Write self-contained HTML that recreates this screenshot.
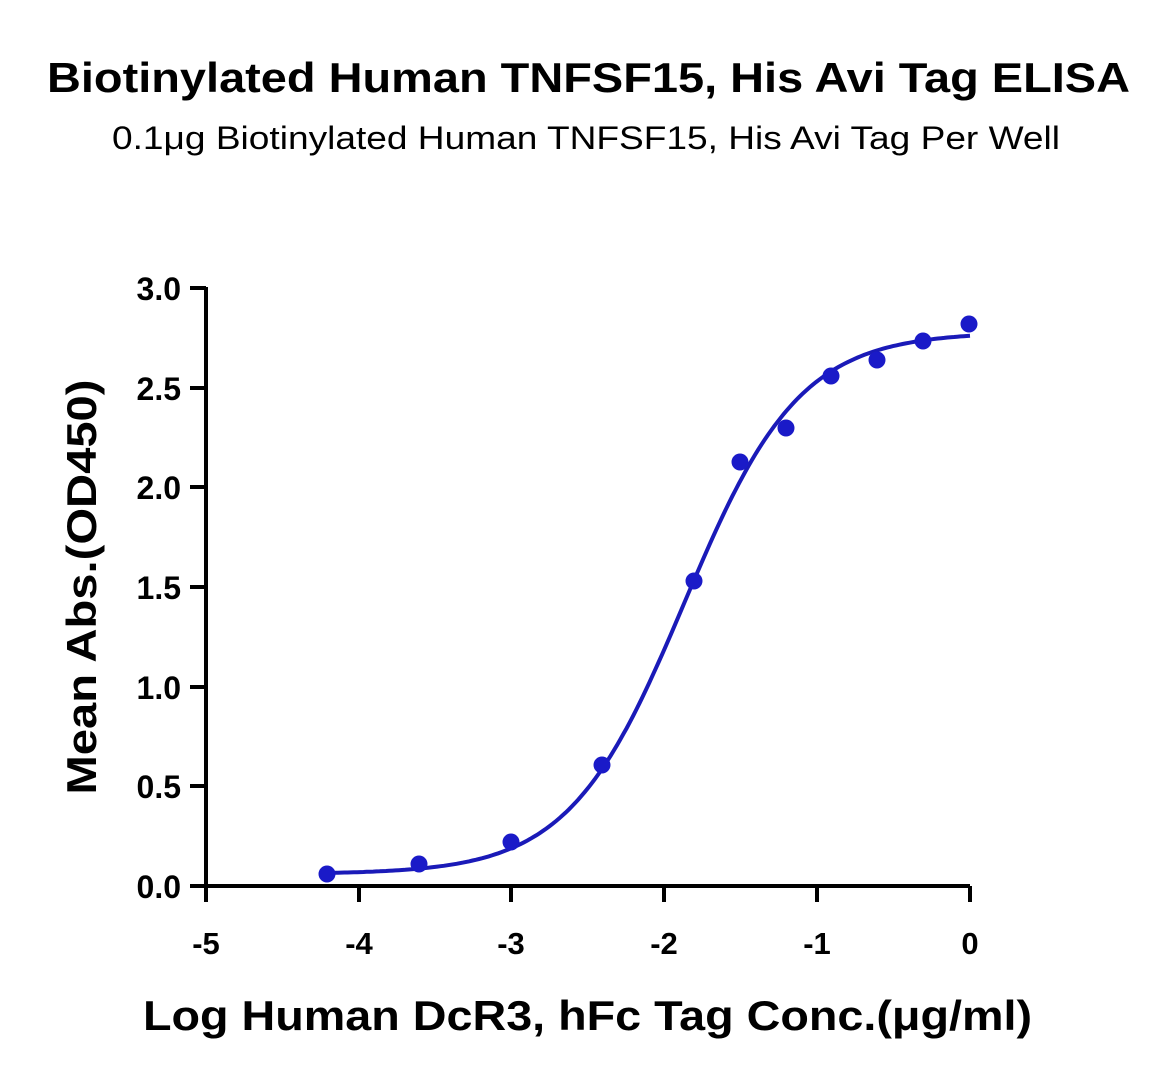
<!DOCTYPE html>
<html><head><style>body{margin:0;background:#fff}</style></head><body>
<svg width="1173" height="1086" xmlns="http://www.w3.org/2000/svg" font-family="Liberation Sans, sans-serif">
<rect width="1173" height="1086" fill="#fff"/>
<text x="47" y="92" font-size="42" font-weight="bold" textLength="1083" lengthAdjust="spacingAndGlyphs">Biotinylated Human TNFSF15, His Avi Tag ELISA</text>
<text x="112" y="149" font-size="32" textLength="948" lengthAdjust="spacingAndGlyphs">0.1μg Biotinylated Human TNFSF15, His Avi Tag Per Well</text>
<g stroke="#000" stroke-width="4" fill="none">
<path d="M206 287 V886 H970"/>
<path d="M190 288H206M190 388H206M190 487H206M190 587H206M190 687H206M190 786H206M190 886H206"/>
<path d="M206 886V902M359 886V902M511 886V902M664 886V902M817 886V902M970 886V902"/>
</g>
<g font-size="32" font-weight="bold" text-anchor="end">
<text x="181" y="300">3.0</text><text x="181" y="400">2.5</text><text x="181" y="499">2.0</text>
<text x="181" y="599">1.5</text><text x="181" y="699">1.0</text><text x="181" y="798">0.5</text><text x="181" y="898">0.0</text>
</g>
<g font-size="31" font-weight="bold" text-anchor="middle">
<text x="206" y="954">-5</text><text x="359" y="954">-4</text><text x="511" y="954">-3</text>
<text x="664" y="954">-2</text><text x="817" y="954">-1</text><text x="970" y="954">0</text>
</g>
<text x="143" y="1030" font-size="42" font-weight="bold" textLength="889" lengthAdjust="spacingAndGlyphs">Log Human DcR3, hFc Tag Conc.(μg/ml)</text>
<text transform="translate(96 587) rotate(-90)" text-anchor="middle" font-size="42" font-weight="bold" textLength="415" lengthAdjust="spacingAndGlyphs">Mean Abs.(OD450)</text>
<path id="c" fill="none" stroke="#1a1ab8" stroke-width="4"/>
<g fill="#1a1ac8">
<circle cx="327" cy="874" r="8.5"/><circle cx="419" cy="864" r="8.5"/><circle cx="511" cy="842" r="8.5"/>
<circle cx="602" cy="765" r="8.5"/><circle cx="694" cy="581" r="8.5"/><circle cx="740" cy="462" r="8.5"/>
<circle cx="786" cy="428" r="8.5"/><circle cx="831" cy="376" r="8.5"/><circle cx="877" cy="360" r="8.5"/>
<circle cx="923" cy="341" r="8.5"/><circle cx="969" cy="324" r="8.5"/>
</g>
<script>
var d="";for(var i=0;i<=200;i++){var x=-4.2+4.2*i/200;var y=0.06+2.72/(1+Math.pow(10,(-1.87-x)*1.15));
var px=206+(x+5)*152.8,py=886-y*199.3;d+=(i?"L":"M")+px.toFixed(1)+" "+py.toFixed(1);}
document.getElementById("c").setAttribute("d",d);
</script>
</svg>
</body></html>
